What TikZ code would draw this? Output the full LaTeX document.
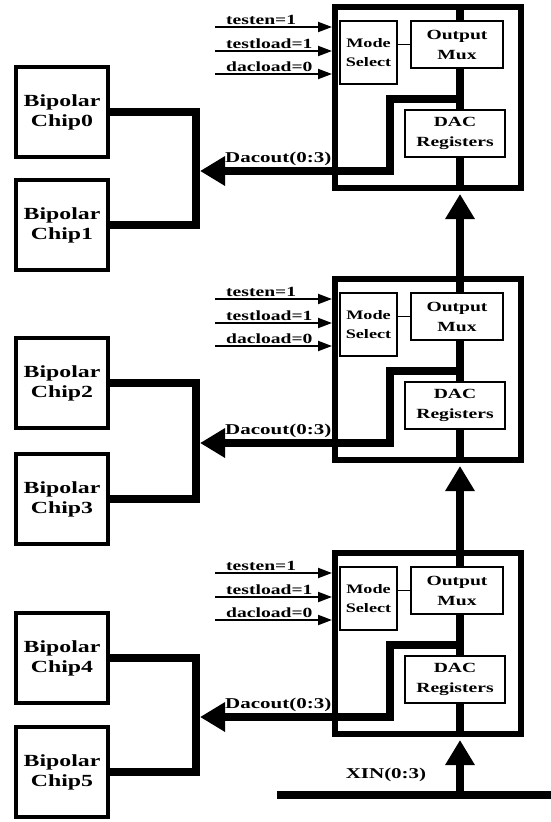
\documentclass[tikz,border=0pt]{standalone}
\usepackage{fontspec}
\setmainfont{Liberation Serif}[FakeStretch=1.4]
\usetikzlibrary{arrows.meta}
\begin{document}
\begin{tikzpicture}[x=1pt,y=-1pt,
  outerbox/.style={draw,line width=6pt,minimum width=186pt,minimum height=181pt,inner sep=0pt},
  inbox/.style={draw,line width=2pt,inner sep=0pt,align=center,font=\bfseries\fontsize{13}{19}\selectfont},
  bigbox/.style={inbox,font=\bfseries\fontsize{14}{20}\selectfont},
  chip/.style={draw,line width=4pt,minimum width=92pt,minimum height=90pt,inner sep=0pt,align=center,font=\bfseries\fontsize{17}{20}\selectfont},
  bus/.style={line width=8pt},
  bushead/.style={-{Triangle[length=25pt,width=28pt]}},
  sig/.style={line width=2pt,-{Triangle[length=14pt,width=10pt]}},
  thinlink/.style={line width=1.5pt},
  lbl/.style={inner sep=0pt,font=\bfseries\fontsize{14}{16}\selectfont},
  dlbl/.style={inner sep=0pt,font=\bfseries\fontsize{15}{17}\selectfont}]
\useasboundingbox (0,0) rectangle (551,822);
\fill[white] (0,0) rectangle (551,822);

% chips
\foreach \n/\cy in {0/112,1/225,2/383,3/499,4/658,5/772}{
  \node[chip] (c\n) at (62,\cy) {Bipolar\\Chip\n};
}
\coordinate (bar) at (196,0);

% blocks
\foreach \i/\y in {1/7,2/279,3/553}{
  \node[outerbox] (o\i) at (428,\y+90.5) {};
  \node[inbox,minimum width=57pt,minimum height=63pt] (m\i) at (368.5,\y+45.5) {Mode\\Select};
  \node[bigbox,minimum width=92pt,minimum height=47pt] (x\i) at (457,\y+37.5) {Output\\Mux};
  \node[bigbox,minimum width=100pt,minimum height=47pt] (r\i) at (455,\y+126.5) {DAC\\Registers};
  \coordinate (v\i) at (460,\y);
  \coordinate (j\i) at (460,\y+92);
  \coordinate (k\i) at (390,\y+164);
  \coordinate (t\i) at (200,\y+164);
  \draw[thinlink] (x\i.west) -- (x\i.west -| m\i.east);
  \draw[bus] (o\i.north -| v\i) -- (x\i.north -| v\i);
  \draw[bus] (x\i.south -| v\i) -- (r\i.north -| v\i);
  \draw[bus] (r\i.south -| v\i) -- (o\i.south -| v\i);
  \draw[bus,bushead] (j\i) -| (k\i) -- (t\i);
  \node[dlbl,anchor=base west] (d\i) at (225,\y+155) {Dacout(0:3)};
  \foreach \s/\r/\txt in {1/20/testen=1,2/44/testload=1,3/67/dacload=0}{
    \coordinate (s\i\s) at (215,\y+\r);
    \draw[sig] (s\i\s) -- (o\i.west |- s\i\s);
    \node[lbl,anchor=base west] (l\i\s) at (226,\y+\r-3) {\txt};
  }
}

% brackets from chips
\foreach \a/\b in {0/1,2/3,4/5}{
  \draw[bus] (c\a.east) -| (bar |- c\b.east) -- (c\b.east);
}

% vertical arrows between blocks
\draw[bus,bushead,shorten >=3pt] (o2.north -| v2) -- (o1.south -| v1);
\draw[bus,bushead,shorten >=3pt] (o3.north -| v3) -- (o2.south -| v2);

% XIN bus
\coordinate (xl) at (277,795);
\coordinate (xr) at (551,795);
\coordinate (xj) at (460,795);
\draw[bus] (xl) -- (xr);
\draw[bus,bushead,shorten >=3pt] (xj) -- (o3.south -| v3);
\node[dlbl] (xin) at (386,775) {XIN(0:3)};
\end{tikzpicture}
\end{document}
